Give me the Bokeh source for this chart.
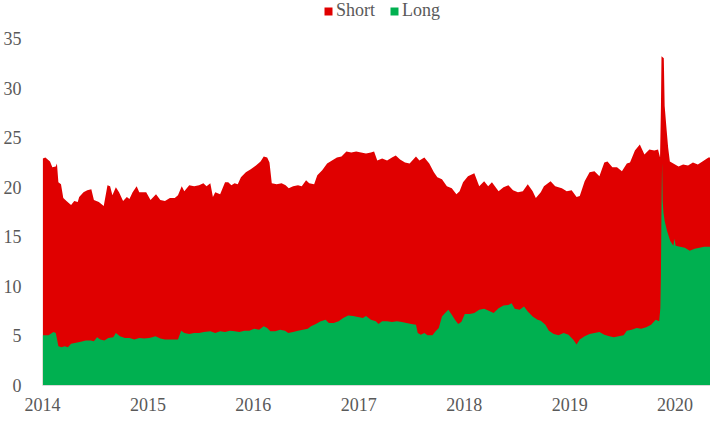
import pandas as pd
from bokeh.plotting import figure
from bokeh.models import Range1d, FixedTicker, Legend, LegendItem, ColumnDataSource
from bokeh.embed import file_html
from bokeh.resources import INLINE

# ---- data ----
total_dates = [
    "2014-01-02", "2014-01-11", "2014-01-27", "2014-02-04", "2014-02-16", "2014-02-20", "2014-02-25",
    "2014-03-06", "2014-03-14", "2014-03-25", "2014-04-10", "2014-04-21", "2014-05-03", "2014-05-08",
    "2014-05-23", "2014-06-05", "2014-06-19", "2014-06-28", "2014-07-15", "2014-08-01", "2014-08-14",
    "2014-08-23", "2014-08-31", "2014-09-12", "2014-09-23", "2014-10-07", "2014-10-20", "2014-10-29",
    "2014-11-09", "2014-11-23", "2014-12-02", "2014-12-13", "2014-12-26", "2015-01-10", "2015-01-29",
    "2015-02-13", "2015-03-01", "2015-03-18", "2015-04-04", "2015-04-15", "2015-04-28", "2015-05-07",
    "2015-05-24", "2015-06-10", "2015-06-27", "2015-07-12", "2015-07-23", "2015-08-05", "2015-08-14",
    "2015-08-22", "2015-09-08", "2015-09-25", "2015-10-06", "2015-10-17", "2015-10-28", "2015-11-08",
    "2015-11-19", "2015-12-06", "2015-12-23", "2016-01-10", "2016-01-26", "2016-02-06", "2016-02-18",
    "2016-02-26", "2016-03-05", "2016-03-22", "2016-04-08", "2016-04-22", "2016-05-03", "2016-05-18",
    "2016-06-04", "2016-06-17", "2016-07-02", "2016-07-13", "2016-07-30", "2016-08-10", "2016-08-27",
    "2016-09-13", "2016-09-30", "2016-10-17", "2016-11-02", "2016-11-19", "2016-12-06", "2016-12-23",
    "2017-01-09", "2017-01-26", "2017-02-12", "2017-02-23", "2017-03-06", "2017-03-23", "2017-04-09",
    "2017-04-26", "2017-05-09", "2017-05-24", "2017-06-10", "2017-06-26", "2017-07-18", "2017-07-30",
    "2017-08-16", "2017-09-02", "2017-09-18", "2017-09-30", "2017-10-16", "2017-11-02", "2017-11-19",
    "2017-12-05", "2017-12-16", "2017-12-28", "2018-01-14", "2018-02-05", "2018-02-22", "2018-03-11",
    "2018-03-25", "2018-04-07", "2018-04-30", "2018-05-17", "2018-06-03", "2018-06-19", "2018-07-06",
    "2018-07-23", "2018-08-09", "2018-08-26", "2018-09-06", "2018-09-23", "2018-10-04", "2018-10-27",
    "2018-11-12", "2018-12-05", "2018-12-22", "2019-01-08", "2019-01-25", "2019-02-05", "2019-02-22",
    "2019-03-11", "2019-03-28", "2019-04-14", "2019-05-01", "2019-05-12", "2019-05-29", "2019-06-14",
    "2019-07-01", "2019-07-18", "2019-07-29", "2019-08-15", "2019-09-01", "2019-09-17", "2019-10-04",
    "2019-10-21", "2019-11-03", "2019-11-10", "2019-11-13", "2019-11-15", "2019-11-23", "2019-11-26",
    "2019-12-03", "2019-12-08", "2019-12-14", "2019-12-26", "2020-01-13", "2020-01-29", "2020-02-15",
    "2020-03-03", "2020-03-20", "2020-04-05", "2020-04-26", "2020-05-03",
]
total_values = [
    22.9, 23.0, 22.6, 22.0, 22.1, 22.4, 20.5,
    20.3, 18.9, 18.6, 18.2, 18.6, 18.5, 19.0,
    19.5, 19.7, 19.8, 18.7, 18.5, 18.1, 20.2,
    20.1, 19.2, 20.0, 19.5, 18.6, 19.0, 18.8,
    19.5, 20.1, 19.5, 19.5, 19.5, 18.7, 19.3,
    18.7, 18.6, 18.9, 18.9, 19.2, 20.1, 19.6,
    20.2, 20.1, 20.2, 20.4, 20.1, 20.4, 19.0,
    19.5, 19.3, 20.5, 20.5, 20.2, 20.4, 20.3,
    21.0, 21.5, 21.8, 22.2, 22.6, 23.1, 23.0,
    22.5, 20.4, 20.3, 20.4, 20.2, 19.9, 20.1,
    20.2, 20.1, 20.7, 20.4, 20.3, 21.2, 21.7,
    22.4, 22.7, 23.0, 23.1, 23.6, 23.5, 23.6,
    23.5, 23.4, 23.5, 23.6, 22.7, 22.9, 22.7,
    23.0, 23.2, 22.8, 22.5, 22.4, 23.1, 22.7,
    23.0, 22.4, 21.5, 21.0, 20.8, 20.1, 19.9,
    19.3, 19.6, 20.5, 21.1, 21.4, 20.1, 20.6,
    20.1, 20.5, 19.6, 20.0, 20.2, 19.7, 19.5,
    19.6, 20.3, 19.6, 18.9, 19.5, 20.1, 20.6,
    20.1, 19.9, 19.6, 19.7, 19.0, 19.1, 20.6,
    21.5, 21.6, 21.1, 22.5, 22.6, 22.0, 22.0,
    21.6, 22.4, 22.5, 23.7, 24.3, 23.3, 23.8,
    23.7, 23.8, 23.0, 28.0, 33.2, 33.0, 28.2,
    25.7, 24.0, 22.6, 22.4, 22.1, 22.3, 22.2,
    22.5, 22.3, 22.6, 23.0, 23.0,
]

long_dates = [
    "2014-01-02", "2014-01-22", "2014-02-08", "2014-02-16", "2014-02-25", "2014-03-08", "2014-03-19",
    "2014-03-30", "2014-04-10", "2014-04-27", "2014-05-14", "2014-05-31", "2014-06-17", "2014-06-28",
    "2014-07-09", "2014-07-20", "2014-08-03", "2014-08-17", "2014-09-03", "2014-09-12", "2014-09-26",
    "2014-10-13", "2014-10-29", "2014-11-15", "2014-12-02", "2014-12-19", "2015-01-05", "2015-01-16",
    "2015-01-27", "2015-02-13", "2015-03-01", "2015-03-18", "2015-04-04", "2015-04-15", "2015-04-26",
    "2015-05-07", "2015-05-24", "2015-06-10", "2015-06-27", "2015-07-14", "2015-08-05", "2015-08-22",
    "2015-09-08", "2015-09-25", "2015-10-12", "2015-10-28", "2015-11-14", "2015-12-01", "2015-12-18",
    "2016-01-04", "2016-01-21", "2016-02-06", "2016-02-18", "2016-02-29", "2016-03-17", "2016-04-03",
    "2016-04-20", "2016-05-01", "2016-05-18", "2016-06-04", "2016-06-21", "2016-07-08", "2016-07-19",
    "2016-08-05", "2016-08-22", "2016-09-08", "2016-09-19", "2016-10-06", "2016-10-23", "2016-11-08",
    "2016-11-25", "2016-12-12", "2016-12-29", "2017-01-15", "2017-01-26", "2017-02-12", "2017-03-01",
    "2017-03-10", "2017-03-23", "2017-04-09", "2017-04-26", "2017-05-13", "2017-05-30", "2017-06-15",
    "2017-07-02", "2017-07-18", "2017-07-24", "2017-08-04", "2017-08-16", "2017-08-27", "2017-09-13",
    "2017-09-24", "2017-10-05", "2017-10-16", "2017-10-27", "2017-11-07", "2017-11-19", "2017-11-30",
    "2017-12-11", "2017-12-22", "2018-01-03", "2018-01-20", "2018-02-05", "2018-02-22", "2018-03-11",
    "2018-03-27", "2018-04-13", "2018-04-30", "2018-05-17", "2018-06-03", "2018-06-14", "2018-06-25",
    "2018-07-12", "2018-07-27", "2018-08-09", "2018-08-26", "2018-09-12", "2018-09-23", "2018-10-09",
    "2018-10-21", "2018-11-07", "2018-11-24", "2018-12-11", "2018-12-28", "2019-01-13", "2019-01-25",
    "2019-02-05", "2019-02-22", "2019-03-11", "2019-03-28", "2019-04-14", "2019-05-01", "2019-05-18",
    "2019-06-03", "2019-06-20", "2019-07-07", "2019-07-18", "2019-08-04", "2019-08-21", "2019-09-06",
    "2019-09-23", "2019-10-10", "2019-10-26", "2019-11-07", "2019-11-11", "2019-11-13", "2019-11-15",
    "2019-11-17", "2019-11-19", "2019-11-22", "2019-11-26", "2019-12-04", "2019-12-15", "2019-12-26",
    "2019-12-30", "2020-01-03", "2020-01-18", "2020-02-04", "2020-02-21", "2020-03-09", "2020-03-26",
    "2020-04-11", "2020-04-28", "2020-05-03",
]
long_values = [
    5.07, 5.07, 5.4, 5.3, 3.97, 3.87, 3.97,
    3.87, 4.2, 4.3, 4.4, 4.53, 4.53, 4.47,
    4.87, 4.63, 4.53, 4.8, 4.87, 5.3, 4.97,
    4.8, 4.8, 4.63, 4.8, 4.73, 4.8, 4.87,
    4.97, 4.73, 4.63, 4.63, 4.63, 4.63, 5.53,
    5.3, 5.2, 5.3, 5.3, 5.4, 5.47, 5.3,
    5.47, 5.4, 5.53, 5.47, 5.4, 5.53, 5.53,
    5.73, 5.63, 5.97, 5.8, 5.47, 5.47, 5.63,
    5.53, 5.3, 5.4, 5.53, 5.63, 5.73, 5.97,
    6.2, 6.47, 6.63, 6.3, 6.3, 6.47, 6.8,
    7.07, 7.0, 6.9, 6.8, 7.0, 6.63, 6.47,
    6.2, 6.47, 6.47, 6.4, 6.47, 6.4, 6.3,
    6.2, 6.13, 5.3, 5.13, 5.3, 5.07, 5.07,
    5.47, 5.8, 6.97, 7.3, 7.63, 7.13, 6.63,
    6.2, 6.4, 7.2, 7.2, 7.3, 7.63, 7.73,
    7.53, 7.3, 7.8, 8.07, 8.13, 8.3, 7.73,
    7.63, 7.97, 7.47, 6.97, 6.63, 6.53, 6.13,
    5.53, 5.2, 5.07, 5.3, 5.13, 4.63, 4.13,
    4.63, 4.97, 5.2, 5.3, 5.4, 5.13, 4.97,
    4.87, 4.97, 5.07, 5.53, 5.63, 5.8, 5.73,
    5.87, 6.13, 6.63, 6.47, 7.8, 11.1, 18.0,
    22.5, 18.6, 17.4, 16.6, 15.6, 14.6, 14.1,
    14.8, 14.1, 14.0, 13.9, 13.6, 13.8, 13.9,
    14.0, 14.0, 14.0,
]

year_ticks = [2014, 2015, 2016, 2017, 2018, 2019, 2020]
value_ticks = [0, 5, 10, 15, 20, 25, 30, 35]
series_names = ["Short", "Long"]
series_colors = ["#e00000", "#00b050"]


def to_decimal_year(dates):
    d = pd.to_datetime(pd.Series(dates))
    days = d.dt.is_leap_year.map({True: 366.0, False: 365.0})
    return (d.dt.year + (d.dt.dayofyear - 1) / days).tolist()


src_total = ColumnDataSource(dict(x=to_decimal_year(total_dates), y=total_values))
src_long = ColumnDataSource(dict(x=to_decimal_year(long_dates), y=long_values))

x_end = max(src_total.data["x"])

# frame spans the full figure height above the x axis; the top strip holds the legend
p = figure(width=710, height=413, output_backend="svg", toolbar_location=None,
           x_range=Range1d(2014, x_end), y_range=Range1d(0, 38.83),
           min_border_left=29, min_border_right=0, min_border_top=0, min_border_bottom=28)
p.outline_line_color = None
p.xgrid.grid_line_color = None
p.ygrid.grid_line_color = None
p.background_fill_color = "white"
p.border_fill_color = "white"

r_short = p.varea(x="x", y1=0, y2="y", source=src_total, fill_color=series_colors[0])
r_long = p.varea(x="x", y1=0, y2="y", source=src_long, fill_color=series_colors[1])

font = "Liberation Serif"
for ax in (p.xaxis[0], p.yaxis[0]):
    ax.major_tick_line_color = None
    ax.minor_tick_line_color = None
    ax.major_label_text_font = font
    ax.major_label_text_font_size = "18px"
    ax.major_label_text_color = "#595959"

p.xaxis.ticker = FixedTicker(ticks=year_ticks)
p.yaxis.ticker = FixedTicker(ticks=value_ticks)
p.xaxis.axis_line_color = "#d9d9d9"
p.xaxis.major_label_standoff = 6
p.yaxis.axis_line_color = None
p.yaxis.major_label_standoff = 15

legend = Legend(items=[LegendItem(label=series_names[0], renderers=[r_short]),
                       LegendItem(label=series_names[1], renderers=[r_long])],
                orientation="horizontal", location=(281, 364))
legend.label_text_font = font
legend.label_text_font_size = "18px"
legend.label_text_color = "#595959"
legend.glyph_width = 10
legend.glyph_height = 10
legend.label_standoff = 3
legend.spacing = 14
legend.padding = 0
legend.margin = 0
legend.border_line_color = None
legend.background_fill_alpha = 0
p.add_layout(legend, "center")

open("out.html", "w").write(file_html(p, INLINE))
